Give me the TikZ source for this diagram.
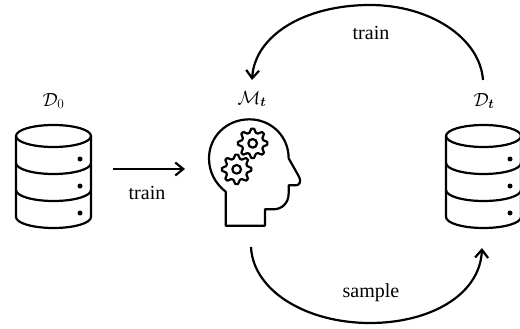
\documentclass[tikz,border=0pt]{standalone}
\usepackage{fix-cm}
\usepackage{amsmath,amssymb}
\usepackage{fontspec}
\setmainfont{Liberation Serif}
\usetikzlibrary{arrows.meta}
\tikzset{
  ink/.style={draw=black,line width=2.2pt,line join=round,line cap=round},
  gearline/.style={draw=black,line width=2.2pt,line join=round},
  flow/.style={draw=black,line width=2.2pt,-{Straight Barb[length=8pt,width=13pt,line width=2.2pt]}},
  lbl/.style={font=\fontsize{20}{22}\selectfont,inner sep=0pt},
  mlbl/.style={font=\fontsize{19}{22}\selectfont,inner sep=0pt},
  gear/.pic={
    \draw[gearline,fill=white] plot[smooth cycle,tension=0.15] coordinates {
      (-5.5:44) (5.5:44) (17:33) (28:33) (39.5:44) (50.5:44) (62:33) (73:33) (84.5:44) (95.5:44) (107:33) (118:33) (129.5:44) (140.5:44) (152:33) (163:33)
      (174.5:44) (185.5:44) (197:33) (208:33) (219.5:44) (230.5:44) (242:33) (253:33) (264.5:44) (275.5:44) (287:33) (298:33) (309.5:44) (320.5:44) (332:33) (343:33)};
    \draw[gearline] (0,0) circle (13);
  },
  dbcyl/.pic={
    \draw[ink] (0,0) ellipse (37.5 and 11);
    \draw[ink] (-37.5,0) -- (-37.5,81) arc[start angle=180,end angle=0,x radius=37.5,y radius=11] -- (37.5,0);
    \draw[ink] (-37.5,27) arc[start angle=180,end angle=0,x radius=37.5,y radius=11];
    \draw[ink] (-37.5,54) arc[start angle=180,end angle=0,x radius=37.5,y radius=11];
    \fill (26.5,23) circle (2.5) (26.5,50) circle (2.5) (26.5,77) circle (2.5);
  }
}
\begin{document}
\begin{tikzpicture}[x=1pt,y=-1pt]
\useasboundingbox (0,0) rectangle (520,329);
\fill[white] (0,0) rectangle (520,329);
\pic at (53.5,136) {dbcyl};
\pic at (483.5,136) {dbcyl};
% head
\begin{scope}[shift={(190,80)},x=0.3333pt,y=-0.3333pt]
\draw[ink]
 (107,437) -- (107,335) .. controls (75,310) and (57,275) .. (57,235)
 .. controls (57,170) and (110,118) .. (178,118)
 .. controls (245,118) and (296,170) .. (296,235)
 -- (327,290) .. controls (335,305) and (328,316) .. (318,316) -- (296,316) -- (296,340)
 .. controls (296,370) and (275,388) .. (250,388) -- (225,388) -- (225,437) -- cycle;
\begin{scope}[shift={(188,190)}]
\pic {gear};
\end{scope}
\begin{scope}[shift={(140,268)}]
\pic {gear};
\end{scope}
\end{scope}
% labels
\node[mlbl] (d0) at (53.5,101) {$\mathcal{D}_0$};
\node[mlbl] (mt) at (252,99) {$\mathcal{M}_{\boldsymbol{t}}$};
\node[mlbl] (dt) at (484,101) {$\mathcal{D}_{\boldsymbol{t}}$};
\node[lbl] (l1) at (147,193) {train};
\node[lbl] (l2) at (371,33) {train};
\node[lbl] (l3) at (371,293) {sample};
% connectors
\coordinate (a) at (113,169); \coordinate (b) at (185,169);
\draw[flow] (a) -- (b);
\coordinate (c) at (483,80); \coordinate (e) at (252,80);
\draw[flow] (c) .. controls (480,38) and (430,5) .. (370,5) .. controls (305,5) and (255,35) .. (e);
\coordinate (f) at (251,247); \coordinate (g) at (482,248);
\draw[flow] (f) .. controls (253,290) and (305,323) .. (370,323) .. controls (430,323) and (480,295) .. (g);
\end{tikzpicture}
\end{document}
